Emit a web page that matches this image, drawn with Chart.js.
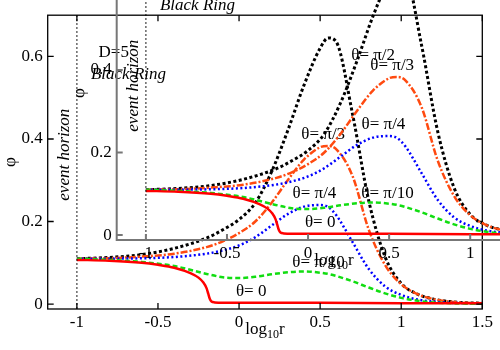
<!DOCTYPE html>
<html>
<head>
<meta charset="utf-8">
<script src="https://cdn.jsdelivr.net/npm/chart.js@4"></script>
<style>
html, body { margin: 0; padding: 0; background: #fff; overflow: hidden; }
#wrap { position: relative; width: 500px; height: 350px; overflow: hidden; }
canvas { position: absolute; }
#main { left: 0; top: 0; }
#inset { left: 69px; top: -69px; }
</style>
</head>
<body>
<div id="wrap">
  <canvas id="main" width="500" height="350"></canvas>
  <canvas id="inset" width="500" height="350"></canvas>
</div>
<script>
// log10 r sample points
const logR = [-1, -0.8, -0.6, -0.4, -0.2, -0.1, 0, 0.1, 0.2, 0.3, 0.4, 0.5, 0.55, 0.6, 0.7, 0.8, 0.9, 1.0, 1.1, 1.2, 1.3, 1.4, 1.5];
const phiHalfPi  = [0.110, 0.113, 0.120, 0.135, 0.160, 0.180, 0.205, 0.245, 0.320, 0.420, 0.530, 0.620, 0.645, 0.635, 0.460, 0.250, 0.115, 0.050, 0.024, 0.012, 0.006, 0.003, 0.002];
const phiThirdPi = [0.110, 0.111, 0.115, 0.122, 0.138, 0.152, 0.172, 0.200, 0.245, 0.300, 0.350, 0.380, 0.383, 0.375, 0.310, 0.180, 0.095, 0.048, 0.024, 0.012, 0.006, 0.003, 0.002];
const phiQuarterPi = [0.110, 0.110, 0.111, 0.114, 0.122, 0.130, 0.142, 0.162, 0.190, 0.218, 0.236, 0.240, 0.235, 0.215, 0.150, 0.085, 0.043, 0.022, 0.011, 0.006, 0.003, 0.002, 0.001];
const phiTenthPi = [0.110, 0.107, 0.102, 0.092, 0.073, 0.065, 0.063, 0.066, 0.072, 0.077, 0.079, 0.076, 0.073, 0.068, 0.055, 0.040, 0.026, 0.015, 0.008, 0.004, 0.002, 0.001, 0.001];
// theta = 0 needs finer points around the drop
const logRZero = [-1, -0.8, -0.6, -0.5, -0.4, -0.3, -0.25, -0.22, -0.2, -0.19, -0.18, -0.17, -0.15, -0.1, 0, 0.5, 1, 1.5];
const phiZero  = [0.107, 0.105, 0.100, 0.095, 0.088, 0.075, 0.064, 0.052, 0.038, 0.025, 0.012, 0.006, 0.004, 0.003, 0.003, 0.003, 0.002, 0.002];

const curveNames = ['θ= 0', 'θ= π/10', 'θ= π/4', 'θ= π/3', 'θ= π/2'];
const xTicks = [-1, -0.5, 0, 0.5, 1, 1.5];
const yTicks = [0, 0.2, 0.4, 0.6];
const horizon = -1;

const serif = '"Liberation Serif", "DejaVu Serif", "Times New Roman", serif';
Chart.defaults.font.family = serif;
Chart.defaults.font.size = 17;
Chart.defaults.color = '#000';

function pts(xs, ys) {
  return xs.map((x, i) => ({ x: x, y: ys[i] }));
}

// frame, inward ticks, event horizon and text labels
const decor = {
  id: 'decor',
  afterDraw(chart, args, opts) {
    const ctx = chart.ctx;
    const a = chart.chartArea;
    const x = chart.scales.x, y = chart.scales.y;
    ctx.save();

    // event horizon line
    const xh = x.getPixelForValue(horizon);
    ctx.strokeStyle = '#000';
    ctx.lineWidth = 1.2;
    ctx.setLineDash([1.5, 2.5]);
    ctx.beginPath();
    ctx.moveTo(xh, a.top);
    ctx.lineTo(xh, a.bottom);
    ctx.stroke();
    ctx.setLineDash([]);

    // frame + ticks
    ctx.strokeStyle = opts.color;
    ctx.lineWidth = opts.width;
    ctx.strokeRect(a.left, a.top, a.right - a.left, a.bottom - a.top);
    ctx.beginPath();
    x.ticks.forEach(t => {
      const p = x.getPixelForValue(t.value);
      ctx.moveTo(p, a.bottom); ctx.lineTo(p, a.bottom - 6);
      ctx.moveTo(p, a.top); ctx.lineTo(p, a.top + 6);
    });
    y.ticks.forEach(t => {
      const p = y.getPixelForValue(t.value);
      ctx.moveTo(a.left, p); ctx.lineTo(a.left + 6, p);
      ctx.moveTo(a.right, p); ctx.lineTo(a.right - 6, p);
    });
    ctx.stroke();

    ctx.fillStyle = '#000';
    ctx.textAlign = 'center';
    ctx.textBaseline = 'middle';
    ctx.font = '17px ' + serif;

    // curve labels
    const spots = [[0.075, 0.030], [0.49, 0.101], [0.465, 0.269], [0.519, 0.41], [0.827, 0.602]];
    curveNames.forEach((name, i) => {
      ctx.fillText(name, x.getPixelForValue(spots[i][0]), y.getPixelForValue(spots[i][1]));
    });

    ctx.fillText('D=5', x.getPixelForValue(-0.773), y.getPixelForValue(0.61));
    ctx.font = 'italic 17px ' + serif;
    ctx.fillText('Black Ring', x.getPixelForValue(-0.682), y.getPixelForValue(0.557));

    ctx.save();
    ctx.translate(x.getPixelForValue(-1.076), y.getPixelForValue(0.362));
    ctx.rotate(-Math.PI / 2);
    ctx.fillText('event horizon', 0, 0);
    ctx.restore();

    // x title with subscript
    ctx.textAlign = 'left';
    ctx.textBaseline = 'alphabetic';
    const big = '17px ' + serif, small = '12px ' + serif;
    ctx.font = big; const w1 = ctx.measureText('log').width; const w3 = ctx.measureText('r').width;
    ctx.font = small; const w2 = ctx.measureText('10').width;
    let tx = (a.left + a.right) / 2 - (w1 + w2 + w3) / 2;
    const ty = a.bottom + 25;
    ctx.font = big; ctx.fillText('log', tx, ty); tx += w1;
    ctx.font = small; ctx.fillText('10', tx, ty + 4); tx += w2;
    ctx.font = big; ctx.fillText('r', tx, ty);

    ctx.restore();
  }
};

function makeChart(id, frameColor, frameWidth) {
  return new Chart(document.getElementById(id), {
    type: 'line',
    data: {
      datasets: [
        { label: curveNames[0], data: pts(logRZero, phiZero), borderColor: '#ff0000', borderWidth: 2.5 },
        { label: curveNames[1], data: pts(logR, phiTenthPi), borderColor: '#11dd11', borderWidth: 2.5, borderDash: [5, 3] },
        { label: curveNames[2], data: pts(logR, phiQuarterPi), borderColor: '#0000ff', borderWidth: 2.5, borderDash: [2, 2.5] },
        { label: curveNames[3], data: pts(logR, phiThirdPi), borderColor: '#ff4a10', borderWidth: 2.5, borderDash: [7, 2, 2, 2] },
        { label: curveNames[4], data: pts(logR, phiHalfPi), borderColor: '#000000', borderWidth: 3, borderDash: [3, 2.5] }
      ]
    },
    options: {
      responsive: false,
      animation: false,
      devicePixelRatio: 1,
      layout: { padding: { left: 0, right: 17.7, top: 12, bottom: 0 } },
      elements: {
        point: { radius: 0 },
        line: { cubicInterpolationMode: 'monotone', fill: false }
      },
      plugins: {
        legend: { display: false },
        tooltip: { enabled: false },
        decor: { color: frameColor, width: frameWidth }
      },
      scales: {
        x: {
          type: 'linear', min: -1.18, max: 1.5,
          afterBuildTicks: s => { s.ticks = xTicks.map(v => ({ value: v })); },
          afterFit: s => { s.height = 41; },
          grid: { display: false, drawTicks: false },
          border: { display: false },
          ticks: { padding: 3, maxRotation: 0, autoSkip: false, callback: v => String(v) }
        },
        y: {
          type: 'linear', min: -0.012, max: 0.7,
          afterBuildTicks: s => { s.ticks = yTicks.map(v => ({ value: v })); },
          afterFit: s => { s.width = 47.7; },
          grid: { display: false, drawTicks: false },
          border: { display: false },
          title: { display: true, text: 'φ', padding: 0 },
          ticks: { padding: 5, autoSkip: false, callback: v => String(v) }
        }
      }
    },
    plugins: [decor]
  });
}

makeChart('main', '#000', 1.3);
makeChart('inset', '#777', 2);
</script>
</body>
</html>
